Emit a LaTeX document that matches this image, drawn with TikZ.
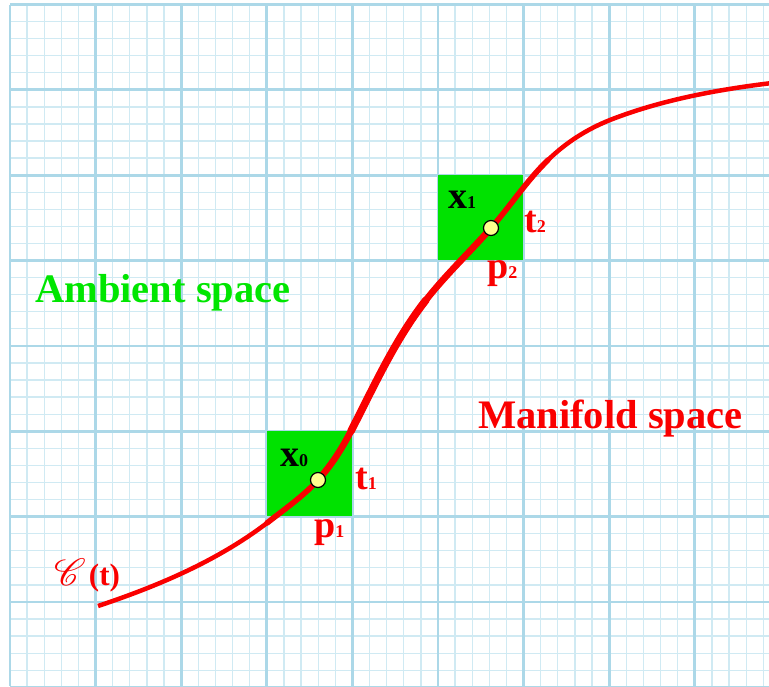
\documentclass[tikz,border=0pt]{standalone}
\usepackage{fontspec}
\setmainfont{Liberation Serif}
\usepackage{mathrsfs}
\usepackage{graphicx}
\definecolor{minorc}{RGB}{208,234,243}
\definecolor{majorc}{RGB}{172,216,232}
\definecolor{boxgreen}{RGB}{0,226,0}
\definecolor{txtgreen}{RGB}{0,230,0}
\definecolor{curvered}{RGB}{250,0,0}
\definecolor{dotyellow}{RGB}{255,255,140}
\newcommand\subsc[1]{{\fontsize{18}{20}\selectfont #1}}
\tikzset{
  bigbold/.style={font=\bfseries\fontsize{38}{40}\selectfont, inner sep=0pt, anchor=base west},
  titlelbl/.style={font=\bfseries\fontsize{40.5}{42}\selectfont, inner sep=0pt, anchor=base west},
  redlbl/.style={bigbold, text=curvered},
  blacklbl/.style={bigbold, text=black},
  greenbox/.style={fill=boxgreen, draw=none},
  dotmark/.style={circle, fill=dotyellow, draw=black, line width=1.2pt, minimum size=15pt, inner sep=0pt},
  curvestyle/.style={draw=curvered, line cap=round, line join=round}
}
\begin{document}
\begin{tikzpicture}[x=1pt,y=-1pt]
\useasboundingbox (0,0) rectangle (769,686);
\fill[white] (0,0) rectangle (769,686);
\begin{scope}
\clip (0,0) rectangle (769,686);
% minor grid
\foreach \i in {0,...,45} {
  \draw[minorc, line width=1.3pt] ({10+\i*17.12},4.5) -- ({10+\i*17.12},686);
}
\foreach \j in {0,...,40} {
  \draw[minorc, line width=1.3pt] (10,{4.5+\j*17.07}) -- (769,{4.5+\j*17.07});
}
% major grid
\foreach \i in {0,...,9} {
  \draw[majorc, line width=2.8pt] ({10+\i*85.6},4.5) -- ({10+\i*85.6},686);
}
\foreach \j in {0,...,8} {
  \draw[majorc, line width=2.8pt] (10,{4.5+\j*85.35}) -- (769,{4.5+\j*85.35});
}
\end{scope}
% green boxes
\fill[greenbox] (267,431) rectangle (352,516);
\fill[greenbox] (438,175) rectangle (523,260);
% curve through named points
\coordinate (P0) at (98,606);
\coordinate (P1) at (267,523);
\coordinate (P2) at (318,480);
\coordinate (P3) at (351,431);
\coordinate (P4) at (426,300);
\coordinate (P5) at (491,228);
\coordinate (P6) at (548,160);
\coordinate (P7) at (610,120);
\coordinate (P8) at (772,83);
\draw[curvestyle, line width=4.5pt, line cap=butt]
  (P0) .. controls (158,586) and (217,561) .. (P1)
       .. controls (284,509.6) and (303.3,496.3) .. (P2)
       .. controls (331.4,465.2) and (341.8,448.8) .. (P3)
       .. controls (374,386.5) and (395,339.5) .. (P4)
       .. controls (445.8,274.7) and (469.9,252) .. (P5)
       .. controls (510.8,205.5) and (526.4,181) .. (P6)
       .. controls (566,142.5) and (586.7,129.3) .. (P7)
       .. controls (661,100) and (717.4,89.6) .. (P8);
\draw[curvestyle, line width=5.6pt]
  (P1) .. controls (284,509.6) and (303.3,496.3) .. (P2)
       .. controls (331.4,465.2) and (341.8,448.8) .. (P3)
       .. controls (374,386.5) and (395,339.5) .. (P4)
       .. controls (445.8,274.7) and (469.9,252) .. (P5)
       .. controls (510.8,205.5) and (526.4,181) .. (P6);
\draw[curvestyle, line width=6.6pt]
  (P2) .. controls (331.4,465.2) and (341.8,448.8) .. (P3)
       .. controls (374,386.5) and (395,339.5) .. (P4)
       .. controls (445.8,274.7) and (469.9,252) .. (P5);
\draw[curvestyle, line width=7.6pt]
  (P3) .. controls (374,386.5) and (395,339.5) .. (P4);
% points
\node[dotmark] (d1) at (P2) {};
\node[dotmark] (d2) at (P5) {};
% labels
\node[blacklbl] (x0) at (280,466) {x\subsc{0}};
\node[blacklbl] (x1) at (448,208) {x\subsc{1}};
\node[redlbl] (t1) at (355,489) {t\subsc{1}};
\node[redlbl] (t2) at (524,232) {t\subsc{2}};
\node[redlbl] (pl1) at (314,537) {p\subsc{1}};
\node[redlbl] (pl2) at (487,278) {p\subsc{2}};
\node[titlelbl, text=txtgreen] (amb) at (35,302) {Ambient space};
\node[titlelbl, text=curvered] (man) at (478,428) {Manifold space};
\node[inner sep=0pt, anchor=base west, text=curvered] (ct) at (54,585)
  {\scalebox{3.8}{$\mathscr{C}$}\hspace{3pt}{\bfseries\fontsize{31}{33}\selectfont(t)}};
\end{tikzpicture}
\end{document}
